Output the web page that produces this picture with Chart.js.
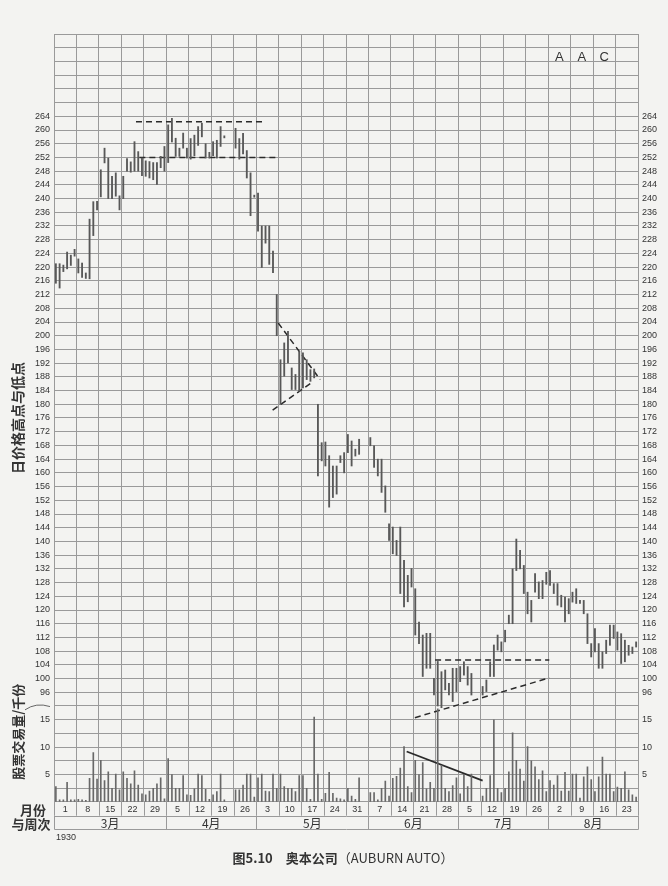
<!DOCTYPE html>
<html>
<head>
<meta charset="utf-8">
<title>Auburn Auto 1930</title>
<script src="https://cdn.jsdelivr.net/npm/chart.js@4.4.1/dist/chart.umd.min.js"></script>
<style>
  html, body { margin: 0; padding: 0; background: #f3f3f1; }
  canvas { display: block; }
</style>
</head>
<body>
<canvas id="chart" width="668" height="886"></canvas>
<script>
// week columns (Saturday dates) and months
const weekLabels = ['1', '8', '15', '22', '29', '5', '12', '19', '26', '3', '10', '17', '24', '31',
                    '7', '14', '21', '28', '5', '12', '19', '26', '2', '9', '16', '23'];
const monthLabels = ['3月', '4月', '5月', '6月', '7月', '8月'];
const monthStartWeeks = [0, 5, 9, 14, 18, 22, 26];
const daysPerWeek = 6;

// daily high / low, one row per week, null = no trading
const highs = [
  [221, 221, 220.6, 224.4, 223.5, 225.2],
  [222.4, 221.2, 218.3, 234, 239.1, 239.2],
  [248.4, 254.7, 251.8, 246.5, 247.5, 240.8],
  [246.5, 251.7, 250.7, 256.6, 253.7, 251.8],
  [251, 250.8, 250.5, 250.5, 252.3, 255.2],
  [261.5, 263.4, 257.6, 254.7, 259.1, 254.7],
  [257.5, 258.5, 261, 262, 256, 253.5],
  [256.6, 257, 261, 258.3, null, null],
  [260.5, 257.5, 259, 254, 247.5, 241],
  [241.6, 232, 232, 232, 224.7, 212],
  [193, 197.9, 201.3, 190.6, 188.7, 195.5],
  [195, 193, 190.1, 190.3, 180, 168.8],
  [169, 165, 162, 162, 165, 165.9],
  [171.2, 169.3, 166.9, 169.8, null, null],
  [170.3, 167.9, 164, 164, 156.2, 145.1],
  [144.2, 140.3, 144.2, 134.5, 130.1, 132.1],
  [126.2, 116.5, 112.7, 113.2, 113.2, 100.1],
  [105, 102, 102.5, 98.6, 103, 103],
  [103.5, 104.9, 103.5, 101.5, null, null],
  [97.7, 99.6, 104.9, 109.8, 112.7, 110.7],
  [114.1, 118.5, 132, 140.7, 137.4, 133],
  [125.2, 122.8, 130.6, 128.2, 128.6, 131],
  [131.5, 127.7, 127.7, 124.3, 123.8, 123.3],
  [125.2, 126.2, 122.8, 122.8, 118.9, 110.2],
  [114.6, 110.2, 107.8, 111.2, 115.6, 115.6],
  [113.6, 113.1, 111.2, 109.7, 109.2, 110.7]
];
const lows = [
  [215.3, 213.9, 218.7, 219.5, 220.5, 223.2],
  [218.3, 217, 216.7, 216.6, 229.2, 236.7],
  [240.5, 250.4, 240, 240, 240.7, 236.7],
  [240, 248, 247.7, 248, 248, 246.7],
  [246.5, 246, 245.5, 244.1, 249, 248],
  [250.5, 256.5, 252.3, 252.3, 254.7, 251.8],
  [251.5, 252.5, 255.5, 258, 251.8, 251.8],
  [252.5, 251.8, 255.2, 257.7, null, null],
  [254.7, 251.5, 253, 246, 235, 240.4],
  [230.5, 219.9, 227, 220.8, 218.4, 200],
  [180, 188.2, 192.1, 184.3, 184.3, 183.8],
  [184.8, 187.2, 186.7, 187.7, 159.1, 163.5],
  [162, 150, 152.8, 153.8, 163, 160],
  [165.9, 162, 164.9, 165.4, null, null],
  [167.9, 161.6, 159.1, 154.3, 148.5, 140.3],
  [136.4, 135.9, 124.8, 120.9, 122.4, 126.7],
  [112.7, 110.2, 100.6, 103, 103, 95.2],
  [92, 91.5, 96.7, 95.2, 93.3, 96.2],
  [99.1, 101, 98.1, 95.2, null, null],
  [95.2, 96.2, 100.6, 100.6, 108.3, 107.8],
  [110.7, 116, 116, 131.5, 132, 124.8],
  [118.9, 116.5, 125.2, 123.3, 123.3, 127.5],
  [127.2, 124.8, 121.4, 120.9, 116.5, 118.9],
  [122.3, 121.9, 121.9, 118.9, 110.2, 106.3],
  [107.8, 103, 103, 107.3, 109.7, 111.7],
  [108.3, 104.4, 104.9, 106.8, 107.3, 109.2]
];
// daily volume, thousands of shares
const volumes = [
  [2.8, 0.4, 0.4, 3.6, 0.4, 0.4],
  [0.5, 0.4, 0.3, 4.3, 9.0, 4.2],
  [7.6, 3.9, 5.5, 2.5, 5.1, 2.2],
  [5.5, 4.3, 3.3, 5.7, 3.1, 1.5],
  [1.3, 2.0, 2.5, 3.3, 4.4, 0.6],
  [7.9, 5.0, 2.5, 2.5, 4.8, 1.3],
  [1.2, 2.4, 5.1, 4.8, 2.3, 0.5],
  [1.3, 1.9, 5.1, 0.4, null, null],
  [2.2, 2.2, 3.1, 5.1, 5.1, 0.9],
  [4.4, 5.1, 2.0, 1.9, 5.1, 2.5],
  [5.1, 2.8, 2.5, 2.5, 1.9, 4.8],
  [4.8, 2.5, 0.5, 15.5, 5.1, 0.5],
  [1.6, 5.4, 1.6, 0.7, 0.6, 0.4],
  [2.5, 1.1, 0.5, 4.4, null, null],
  [1.7, 1.7, 0.4, 2.5, 3.8, 1.1],
  [4.3, 4.7, 6.2, 10.1, 2.8, 1.7],
  [7.6, 5.0, 7.2, 2.4, 3.6, 2.5],
  [17, 6.7, 2.5, 1.9, 3.0, 4.4],
  [1.5, 5.0, 2.8, 5.1, null, null],
  [1.1, 2.5, 4.8, 15.0, 2.5, 1.7],
  [2.5, 5.5, 12.6, 7.6, 6.0, 3.8],
  [10.1, 7.5, 6.4, 4.1, 5.7, 1.9],
  [3.9, 3.1, 4.8, 2.0, 5.4, 2.0],
  [5.1, 5.1, 0.7, 4.6, 6.4, 4.1],
  [1.9, 4.6, 8.2, 5.1, 5.1, 1.9],
  [2.7, 2.5, 5.5, 2.2, 1.3, 0.9]
];

// guide lines: [startDay, startValue, endDay, endValue]
const priceGuides = [
  [21.9, 262.4, 55.9, 262.4],
  [22.8, 252, 59.6, 252],
  [59.9, 203.7, 71.1, 187.2],
  [58.4, 178.3, 68.8, 186.3],
  [101.8, 105.4, 132.3, 105.4],
  [96.4, 88.6, 132.3, 100.2]
];
const volumeTrend = [94.2, 9.2, 114.5, 3.9];

const priceTicksShown = [96, 264];
const volumeTicksShown = [5, 10, 15];

const paper = '#f3f3f1';
const gridColor = '#9a9a9a';
const ink = '#333';
const latin = '"Liberation Sans", Arial, sans-serif';
const cjk = '"Noto Sans CJK SC", "Noto Sans", sans-serif';

const priceBars = [];
const volumeBars = [];
highs.forEach((week, w) => {
  week.forEach((hi, d) => {
    const x = w * daysPerWeek + d + 0.5;
    if (hi !== null) priceBars.push({ x: x, y: [lows[w][d], hi] });
    const v = volumes[w][d];
    if (v !== null) volumeBars.push({ x: x, y: v });
  });
});

function guideLine(g, axis, dashed) {
  return {
    type: 'line',
    yAxisID: axis,
    data: [{ x: g[0], y: g[1] }, { x: g[2], y: g[3] }],
    borderColor: '#2a2a2a',
    borderWidth: dashed ? 1.5 : 1.8,
    borderDash: dashed ? [6, 4] : [],
    pointRadius: 0,
    fill: false,
    clip: false
  };
}

const tickFont = { family: latin, size: 9 };

function priceAxis(position, weight, grid) {
  return {
    type: 'linear', position: position, stack: position, stackWeight: 48, weight: weight,
    min: 96, max: 288,
    ticks: {
      stepSize: 4, autoSkip: false, font: tickFont, color: ink, padding: 4,
      callback: v => (v >= priceTicksShown[0] && v <= priceTicksShown[1]) ? v : ''
    },
    grid: { display: grid, color: gridColor, drawTicks: false },
    border: { display: false },
    afterFit: s => { s.width = position === 'left' ? 54 : 30; }
  };
}
function volumeAxis(position, weight, grid) {
  return {
    type: 'linear', position: position, stack: position, stackWeight: 8, weight: weight,
    min: 0, max: 20,
    ticks: {
      stepSize: 2.5, autoSkip: false, font: tickFont, color: ink, padding: 4,
      callback: v => volumeTicksShown.includes(v) ? v : ''
    },
    grid: { display: grid, color: gridColor, drawTicks: false },
    border: { display: false },
    afterFit: s => { s.width = position === 'left' ? 54 : 30; }
  };
}

// paper, bottom week/month rows and the loose texts
const frame = {
  id: 'frame',
  beforeDraw(chart) {
    const ctx = chart.ctx;
    ctx.save();
    ctx.fillStyle = paper;
    ctx.fillRect(0, 0, chart.width, chart.height);
    ctx.restore();
  },
  afterDraw(chart) {
    const { ctx, chartArea: area } = chart;
    const x = chart.scales.x, yp = chart.scales.y, yv = chart.scales.yv;
    const rowH = yv.getPixelForValue(0) - yv.getPixelForValue(2.5);
    const top = area.bottom, mid = top + rowH, bottom = mid + rowH;
    const crisp = v => Math.round(v) + 0.5;
    const dayPx = d => x.getPixelForValue(d);

    ctx.save();
    ctx.strokeStyle = gridColor;
    ctx.lineWidth = 1;
    ctx.beginPath();
    for (let w = 0; w <= weekLabels.length; w++) {
      const px = crisp(dayPx(w * daysPerWeek));
      ctx.moveTo(px, top);
      ctx.lineTo(px, mid);
    }
    monthStartWeeks.forEach(w => {
      const px = crisp(dayPx(w * daysPerWeek));
      ctx.moveTo(px, mid);
      ctx.lineTo(px, bottom);
    });
    ctx.moveTo(crisp(area.left), crisp(mid));
    ctx.lineTo(crisp(area.right), crisp(mid));
    ctx.moveTo(crisp(area.left), crisp(bottom));
    ctx.lineTo(crisp(area.right), crisp(bottom));
    ctx.stroke();

    ctx.fillStyle = ink;
    ctx.textAlign = 'center';
    ctx.textBaseline = 'middle';
    ctx.font = `9px ${latin}`;
    weekLabels.forEach((lab, w) => {
      ctx.fillText(lab, dayPx((w + 0.5) * daysPerWeek), (top + mid) / 2 + 1);
    });
    ctx.font = `12px ${cjk}`;
    monthLabels.forEach((lab, m) => {
      const cx = (dayPx(monthStartWeeks[m] * daysPerWeek) + dayPx(monthStartWeeks[m + 1] * daysPerWeek)) / 2;
      ctx.fillText(lab, cx, (mid + bottom) / 2 + 1);
    });

    // row headers
    ctx.font = `bold 13px ${cjk}`;
    ctx.fillText('月份', 33, (top + mid) / 2 + 1);
    ctx.fillText('与周次', 31, (mid + bottom) / 2 + 1);

    ctx.textAlign = 'left';
    ctx.font = `9px ${latin}`;
    ctx.fillText('1930', area.left + 2, bottom + 8);

    // ticker in the top rows
    ctx.textAlign = 'center';
    ctx.font = `13px ${latin}`;
    ['A', 'A', 'C'].forEach((ch, i) => {
      ctx.fillText(ch, dayPx((22 + i + 0.5) * daysPerWeek), yp.getPixelForValue(281.2));
    });

    // axis titles
    ctx.save();
    ctx.translate(18, yp.getPixelForValue(176));
    ctx.rotate(-Math.PI / 2);
    ctx.font = `bold 14px ${cjk}`;
    ctx.fillText('日价格高点与低点', 0, 0);
    ctx.restore();
    ctx.save();
    ctx.translate(18, yv.getPixelForValue(12.8));
    ctx.rotate(-Math.PI / 2);
    ctx.font = `bold 13px ${cjk}`;
    ctx.fillText('股票交易量/千份', 0, 0);
    ctx.restore();
    ctx.strokeStyle = '#666';
    ctx.beginPath();
    ctx.moveTo(25, yv.getPixelForValue(16.8));
    ctx.quadraticCurveTo(36, yv.getPixelForValue(18.2), 50, yv.getPixelForValue(17.4));
    ctx.stroke();

    // caption
    const capY = bottom + 29;
    const partA = '图5.10　奥本公司';
    const partB = '（AUBURN AUTO）';
    ctx.font = `bold 13px ${cjk}`;
    const wa = ctx.measureText(partA).width;
    ctx.font = `13px ${cjk}`;
    const wb = ctx.measureText(partB).width;
    const startX = 343 - (wa + wb) / 2;
    ctx.textAlign = 'left';
    ctx.font = `bold 13px ${cjk}`;
    ctx.fillText(partA, startX, capY);
    ctx.font = `13px ${cjk}`;
    ctx.fillText(partB, startX + wa, capY);
    ctx.restore();
  }
};

const datasets = [
  {
    type: 'bar', label: 'price', yAxisID: 'y', data: priceBars,
    backgroundColor: '#585858', borderWidth: 0, barThickness: 1.2, grouped: false, clip: false
  },
  {
    type: 'bar', label: 'volume', yAxisID: 'yv', data: volumeBars,
    backgroundColor: '#686868', borderWidth: 0, barThickness: 1, grouped: false
  }
];
priceGuides.forEach(g => datasets.push(guideLine(g, 'y', true)));
datasets.push(guideLine(volumeTrend, 'yv', false));

new Chart(document.getElementById('chart'), {
  type: 'bar',
  data: { datasets: datasets },
  options: {
    responsive: false,
    animation: false,
    events: [],
    layout: { padding: { top: 34, bottom: 84, left: 0, right: 0 } },
    plugins: { legend: { display: false }, tooltip: { enabled: false } },
    scales: {
      x: {
        type: 'linear', min: 0, max: weekLabels.length * daysPerWeek, offset: false,
        ticks: { display: false, stepSize: daysPerWeek },
        grid: { color: gridColor, drawTicks: false, offset: false },
        border: { display: false }
      },
      y: priceAxis('left', 1, true),
      yv: volumeAxis('left', 0, true),
      y2: priceAxis('right', 0, false),
      yv2: volumeAxis('right', 1, false)
    }
  },
  plugins: [frame]
});
</script>
</body>
</html>
